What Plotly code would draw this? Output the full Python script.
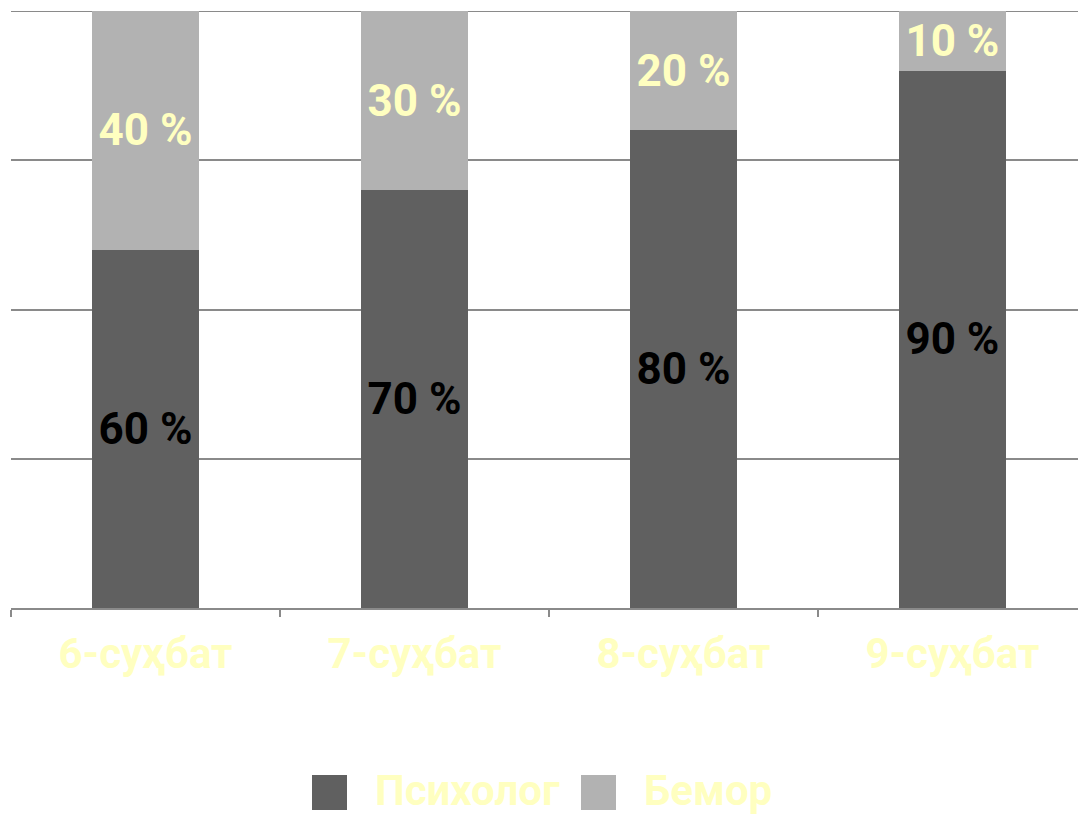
import plotly.graph_objects as go

categories = ["6-суҳбат", "7-суҳбат", "8-суҳбат", "9-суҳбат"]
psixolog = [60, 70, 80, 90]
bemor = [40, 30, 20, 10]
series_names = ["Психолог", "Бемор"]
colors = ["#606060", "#b2b2b2"]
label_colors = ["#000000", "#FFFFC0"]

FONT = "Roboto, 'Open Sans', sans-serif"
GRID = "#8a8a8a"

fig = go.Figure()
for name, vals, col, lc in zip(series_names, [psixolog, bemor], colors, label_colors):
    fig.add_trace(go.Bar(
        x=categories, y=vals, name=name, marker=dict(color=col, line=dict(width=0)),
        width=0.4, texttemplate="%{y} %", textposition="inside",
        insidetextanchor="middle", constraintext="none", textangle=0,
        textfont=dict(family=FONT, size=44, color=lc, weight="bold"),
        showlegend=False, hoverinfo="skip",
    ))

# custom legend (large swatches)
W, H = 1078, 814
L, R, T, B = 11, 0, 11, 206
pw, ph = W - L - R, H - T - B
def px(x):
    return (x - L) / pw
def py(y):
    return (H - B - y) / ph

sw = [(312, 347), (581, 616)]
tx = [373, 642]
for (x0, x1), t, name, col in zip(sw, tx, series_names, colors):
    fig.add_shape(type="rect", xref="paper", yref="paper", layer="below",
                  x0=px(x0), x1=px(x1), y0=py(810), y1=py(775),
                  fillcolor=col, line=dict(width=0))
    fig.add_annotation(xref="paper", yref="paper", x=px(t), y=py(791),
                       xanchor="left", yanchor="middle", showarrow=False,
                       text=f"<b>{name}</b>",
                       font=dict(family=FONT, size=42, color="#FFFFC0"))

# top gridline (plotly drops gridlines that sit on the plot edge)
fig.add_shape(type="line", xref="paper", yref="y", layer="below",
              x0=0, x1=1, y0=100, y1=100, line=dict(color=GRID, width=2))

fig.update_layout(
    width=W, height=H, barmode="stack", bargap=0.6,
    margin=dict(l=L, r=R, t=T, b=B, pad=0),
    plot_bgcolor="white", paper_bgcolor="white",
)
fig.update_xaxes(
    range=[-0.5, 3.467], showgrid=False, showline=True, linecolor=GRID, linewidth=2,
    ticks="outside", tickson="boundaries", ticklen=7, tickwidth=2, tickcolor=GRID,
    tickfont=dict(family=FONT, size=42, color="#FFFFC0", weight="bold"),
    ticklabelstandoff=8, fixedrange=True,
)
fig.update_yaxes(
    range=[0, 100], showgrid=True, gridcolor=GRID, gridwidth=2,
    tickvals=[0, 25, 50, 75, 100], showticklabels=False, zeroline=False,
    showline=False, fixedrange=True,
)
fig.write_html("out.html")
